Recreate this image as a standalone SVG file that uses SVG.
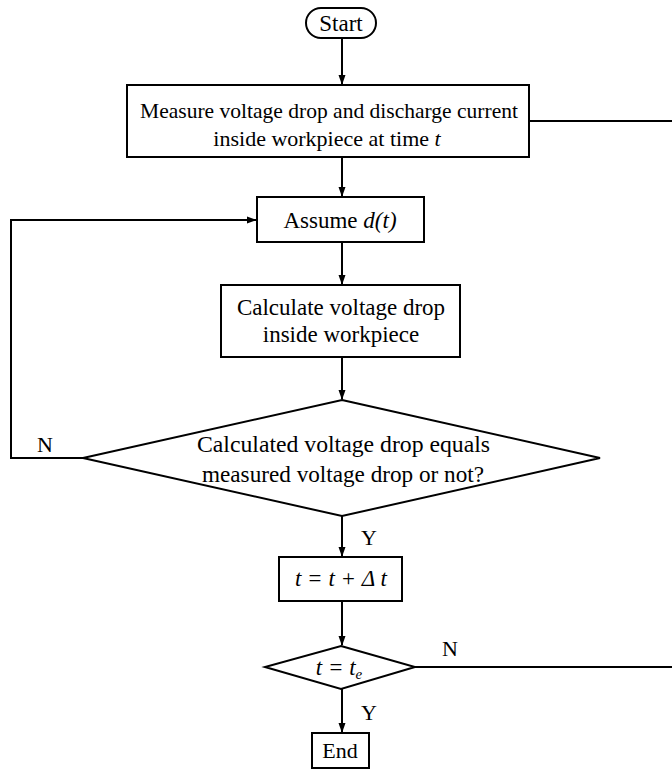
<svg xmlns="http://www.w3.org/2000/svg" width="672" height="770" viewBox="0 0 672 770">
<style>
.s{fill:#fff;stroke:#000;stroke-width:2}
.c{fill:none;stroke:#000;stroke-width:2}
text{font-family:"Liberation Serif","Times New Roman",serif;font-size:23px;fill:#000}
.m{text-anchor:middle}
.i{font-style:italic}
.l{font-size:22px}
</style>
<defs>
<marker id="a" markerWidth="10" markerHeight="10" refX="9" refY="5" orient="auto" markerUnits="userSpaceOnUse">
<path d="M0,1.5 L10,5 L0,8.5 Z" fill="#000"/>
</marker>
</defs>
<g id="connectors">
<line class="c" x1="342" y1="38" x2="342" y2="84" marker-end="url(#a)"/>
<line class="c" x1="342" y1="157" x2="342" y2="196" marker-end="url(#a)"/>
<line class="c" x1="342" y1="242" x2="342" y2="284" marker-end="url(#a)"/>
<line class="c" x1="342" y1="357" x2="342" y2="399" marker-end="url(#a)"/>
<line class="c" x1="342" y1="516" x2="342" y2="556" marker-end="url(#a)"/>
<line class="c" x1="342" y1="601" x2="342" y2="645" marker-end="url(#a)"/>
<line class="c" x1="342" y1="689" x2="342" y2="732" marker-end="url(#a)"/>
<polyline class="c" points="83,458 11,458 11,220 256,220" marker-end="url(#a)"/>
<line class="c" x1="529" y1="121" x2="672" y2="121"/>
<line class="c" x1="415" y1="667" x2="672" y2="667"/>
<text x="45" y="452" class="m l">N</text>
<text x="369" y="545" class="m l">Y</text>
<text x="450" y="656" class="m l">N</text>
<text x="369" y="720" class="m l">Y</text>
</g>
<g id="start">
<rect class="s" x="306" y="8" width="70" height="30" rx="15"/>
<text x="341" y="31" class="m">Start</text>
</g>
<g id="measure">
<rect class="s" x="127" y="85" width="402" height="72"/>
<text x="140" y="118" class="l" textLength="378" lengthAdjust="spacingAndGlyphs">Measure voltage drop and discharge current</text>
<text x="327" y="146" class="m l">inside workpiece at time <tspan class="i">t</tspan></text>
</g>
<g id="assume">
<rect class="s" x="257" y="197" width="167" height="45"/>
<text x="340" y="228" class="m">Assume <tspan class="i">d(t)</tspan></text>
</g>
<g id="calculate">
<rect class="s" x="221" y="285" width="239" height="72"/>
<text x="341" y="315" class="m">Calculate voltage drop</text>
<text x="341" y="342" class="m">inside workpiece</text>
</g>
<g id="compare">
<polygon class="s" points="342,400 600,458 342,516 83,458"/>
<text x="197" y="452" textLength="293" lengthAdjust="spacingAndGlyphs">Calculated voltage drop equals</text>
<text x="202" y="482" textLength="282" lengthAdjust="spacingAndGlyphs">measured voltage drop or not?</text>
</g>
<g id="increment">
<rect class="s" x="279" y="557" width="123" height="44"/>
<text x="341" y="586" class="m i">t = t + Δ t</text>
</g>
<g id="check">
<polygon class="s" points="341,646 415,667 341,689 265,667"/>
<text x="339" y="675" class="m i">t = t<tspan font-size="15" dy="4">e</tspan></text>
</g>
<g id="end">
<rect class="s" x="312" y="733" width="57" height="35"/>
<text x="340" y="758" class="m l">End</text>
</g>
</svg>
